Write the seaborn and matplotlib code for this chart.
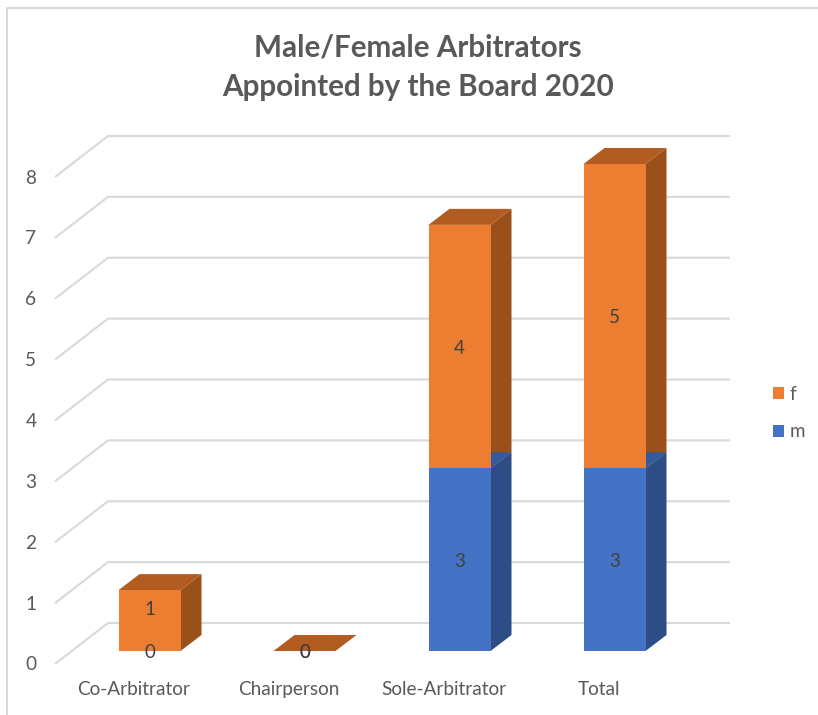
import matplotlib
matplotlib.use("Agg")
import matplotlib.pyplot as plt
from matplotlib.lines import Line2D
from matplotlib.patches import Polygon
from matplotlib.transforms import ScaledTranslation
import seaborn as sns
import pandas as pd

categories = ["Co-Arbitrator", "Chairperson", "Sole-Arbitrator", "Total"]
m_values = [0, 0, 3, 3]
f_values = [1, 0, 4, 5]
y_ticks = [0, 1, 2, 3, 4, 5, 6, 7, 8]
title = "Male/Female Arbitrators\nAppointed by the Board 2020"

W, H = 818, 715
sns.set_theme(style="white")
plt.rcParams["font.family"] = ["Lato", "DejaVu Sans"]

fig = plt.figure(figsize=(W / 100, H / 100), dpi=100, facecolor="white")
# axes rectangle = the front plane of the bars (pixels: x 55-730, y 651-164)
ax = fig.add_axes([55 / W, 1 - 651 / H, (730 - 55) / W, (651 - 164) / H])

df = pd.DataFrame({"category": categories, "m": m_values, "f": f_values})
C_F, C_M = "#ED7D31", "#4472C4"
sns.barplot(data=df, x="category", y="m", color=C_M, saturation=1, width=0.4,
            errorbar=None, ax=ax, zorder=3, linewidth=0)
sns.barplot(data=df, x="category", y="f", bottom=df["m"], color=C_F, saturation=1,
            width=0.4, errorbar=None, ax=ax, zorder=3, linewidth=0)

PX = 155.0          # pixels per category
PY = (651 - 164) / 8  # pixels per unit
ax.set_xlim((55 - 149.5) / PX, (730 - 149.5) / PX)
ax.set_ylim(0, 8)
for s in ax.spines.values():
    s.set_visible(False)

# gridlines on the side wall and back wall
wall = "#D9D9D9"
for v in y_ticks:
    xs = [(55 - 149.5) / PX, (108 - 149.5) / PX, (730 - 149.5) / PX]
    ys = [v - 13 / PY, v + 28 / PY, v + 28 / PY]
    ax.plot(xs, ys, color=wall, lw=1.5, clip_on=False, zorder=1,
            solid_capstyle="butt", solid_joinstyle="miter")

# depth faces of each bar, derived from the bars' own geometry
DX, DY = 21 / PX, 16 / PY
shades = {C_M: ("#2C4D86", "#335A9C"), C_F: ("#9A5019", "#B35C21")}
for container, col in zip(ax.containers, (C_M, C_F)):
    side, top = shades[col]
    for b in container.patches:
        x0, y0, w, h = b.get_x(), b.get_y(), b.get_width(), b.get_height()
        x1, y1 = x0 + w, y0 + h
        if h > 0:
            ax.add_patch(Polygon([(x1, y0), (x1 + DX, y0 + DY), (x1 + DX, y1 + DY), (x1, y1)],
                                 closed=True, fc=side, ec="none", zorder=2.5, clip_on=False))
        if col == C_F or h > 0:
            ax.add_patch(Polygon([(x0, y1), (x0 + DX, y1 + DY), (x1 + DX, y1 + DY), (x1, y1)],
                                 closed=True, fc=top, ec="none", zorder=2.6, clip_on=False))

# value labels
lab = "#404040"
fs = 13.5
nudge = -1.5 / PY
for i, (mv, fv) in enumerate(zip(m_values, f_values)):
    ax.text(i, mv / 2 + nudge, str(mv), ha="center", va="center", color=lab, fontsize=fs, zorder=5)
    # the lone short segment's label sits higher in the reference
    ypos = mv + fv / 2 + nudge + (13 / PY if (mv == 0 and fv == 1) else 0)
    ax.text(i, ypos, str(fv), ha="center", va="center", color=lab, fontsize=fs, zorder=5)

# ticks
ax.set_xlabel("")
ax.set_ylabel("")
ax.set_yticks(y_ticks)
ax.set_yticklabels([str(v) for v in y_ticks])
ax.set_xticks(range(len(categories)))
ax.set_xticklabels(categories)
ax.tick_params(axis="both", length=0, colors="#595959", labelsize=13.7)
ax.tick_params(axis="y", pad=13.5)
ax.tick_params(axis="x", pad=21.5)
off_y = ScaledTranslation(0, -12.5 / 100, fig.dpi_scale_trans)
off_x = ScaledTranslation(-16 / 100, 0, fig.dpi_scale_trans)
for t in ax.get_yticklabels():
    t.set_transform(t.get_transform() + off_y)
for t in ax.get_xticklabels():
    t.set_transform(t.get_transform() + off_x)

# legend
ax.legend(handles=[ax.containers[1], ax.containers[0]], labels=["f", "m"],
          frameon=False, loc="center left", fontsize=13.5,
          bbox_to_anchor=((773 - 55) / (730 - 55), (651 - 413) / (651 - 164)),
          handlelength=0.6, handleheight=0.6, handletextpad=0.3, labelspacing=1.1,
          labelcolor="#595959", borderpad=0, borderaxespad=0)

fig.text(418 / W, 1 - 67.5 / H, title, ha="center", va="center", fontsize=21.3,
         fontweight="bold", color="#595959", linespacing=1.48)

# chart frame
fig.add_artist(Line2D([7 / W, 7 / W, 1], [0, 1 - 8 / H, 1 - 8 / H], color=wall, lw=1.5,
                      transform=fig.transFigure))

fig.savefig("out.png", dpi=100, facecolor="white")
